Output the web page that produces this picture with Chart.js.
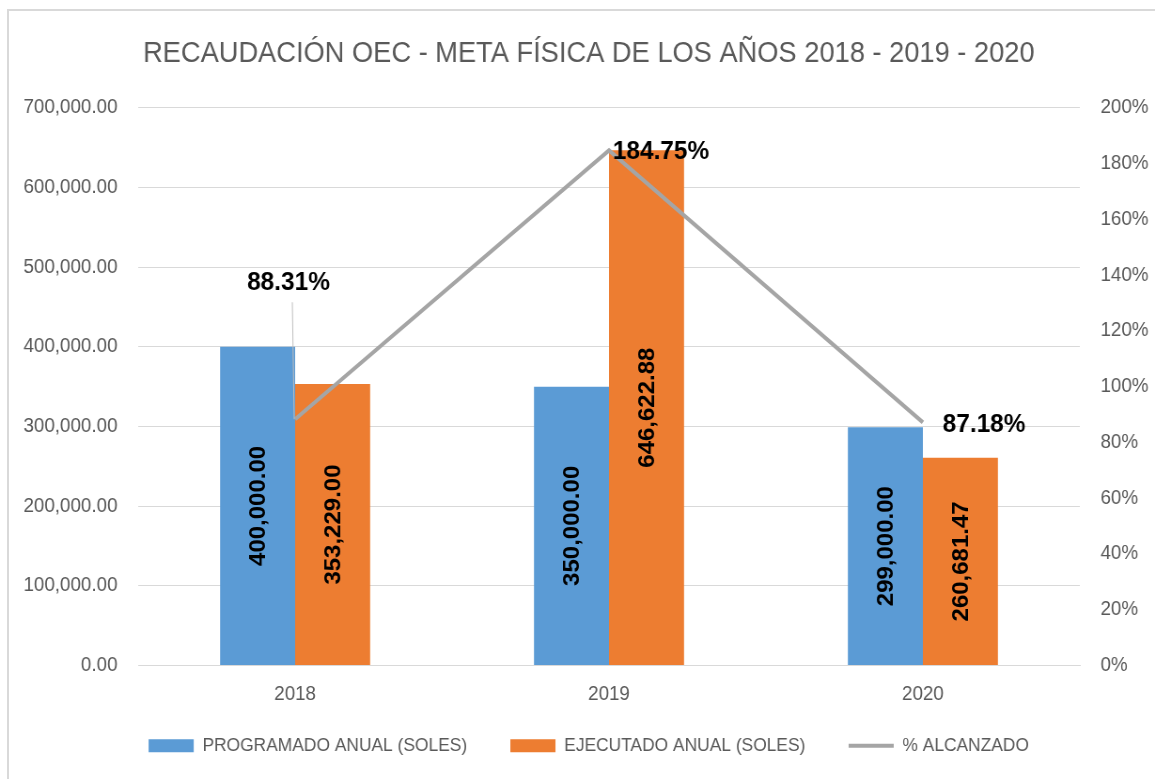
<!DOCTYPE html>
<html lang="es">
<head>
<meta charset="utf-8">
<title>Recaudación OEC</title>
<script src="https://cdn.jsdelivr.net/npm/chart.js@4.4.1/dist/chart.umd.min.js"></script>
<style>
  html, body { margin: 0; padding: 0; background: #fff; overflow: hidden; }
  #frame {
    position: absolute; left: 7px; top: 9px; width: 1200px; height: 800px;
    border-top: 2px solid #d9d9d9; border-left: 2px solid #d9d9d9;
  }
  /* chart is laid out a bit wider, then squeezed to mimic the condensed Office text */
  #wrap {
    position: absolute; left: 0; top: 0; width: 1229px; height: 779px;
    transform: scaleX(0.9398); transform-origin: 0 0;
  }
</style>
</head>
<body>
<div id="frame"></div>
<div id="wrap"><canvas id="chart" width="1229" height="779"></canvas></div>
<script>
// ── data ─────────────────────────────────────────────────────────────────────
const years = ['2018', '2019', '2020'];
const programado = [400000.00, 350000.00, 299000.00];
const ejecutado = [353229.00, 646622.88, 260681.47];
const alcanzado = [88.31, 184.75, 87.18];

const seriesNames = ['PROGRAMADO ANUAL (SOLES)', 'EJECUTADO ANUAL (SOLES)', '% ALCANZADO'];
const BLUE = '#5B9BD5';
const ORANGE = '#ED7D31';
const GRAY = '#A5A5A5';
const TEXT = '#595959';
const FONT = "'Liberation Sans', Arial, sans-serif";

Chart.defaults.font.family = FONT;
Chart.defaults.color = TEXT;

// ── helpers ──────────────────────────────────────────────────────────────────
function money(v) {
  return Number(v).toLocaleString('en-US', { minimumFractionDigits: 2, maximumFractionDigits: 2 });
}

// the x labels sit lower than the axis box, so don't clip them to it
const noLabelClip = {
  id: 'noLabelClip',
  afterLayout(chart) {
    chart.scales.x._computeLabelArea = () => null;
  },
};

// value labels, rotated inside the bars + percent labels near the line
const labelsPlugin = {
  id: 'valueLabels',
  afterDatasetsDraw(chart) {
    const { ctx } = chart;
    ctx.save();
    ctx.fillStyle = '#000';

    // bars
    [0, 1].forEach((di) => {
      const meta = chart.getDatasetMeta(di);
      const vals = chart.data.datasets[di].data;
      meta.data.forEach((bar, i) => {
        const cy = (bar.y + bar.base) / 2;
        ctx.save();
        ctx.translate(bar.x, cy);
        ctx.rotate(-Math.PI / 2);
        ctx.font = 'bold 24px ' + FONT;
        ctx.textAlign = 'center';
        ctx.textBaseline = 'middle';
        ctx.fillText(money(vals[i]), 0, 1);
        ctx.restore();
      });
    });

    // percent line labels
    const lineMeta = chart.getDatasetMeta(2);
    const place = [
      { dx: -7, dy: -136, align: 'center', leader: true },
      { dx: 4, dy: 2, align: 'left' },
      { dx: 21, dy: 2, align: 'left' },
    ];
    ctx.font = 'bold 26px ' + FONT;
    ctx.textBaseline = 'middle';
    lineMeta.data.forEach((pt, i) => {
      const p = place[i];
      if (p.leader) {
        ctx.strokeStyle = '#bfbfbf';
        ctx.lineWidth = 1;
        ctx.beginPath();
        ctx.moveTo(pt.x - 3, pt.y + p.dy + 19);
        ctx.lineTo(pt.x - 1, pt.y);
        ctx.stroke();
      }
      ctx.textAlign = p.align;
      ctx.fillText(alcanzado[i].toFixed(2) + '%', pt.x + p.dx, pt.y + p.dy);
    });
    ctx.restore();
  },
};

// ── chart ────────────────────────────────────────────────────────────────────
new Chart(document.getElementById('chart'), {
  type: 'bar',
  data: {
    labels: years,
    datasets: [
      {
        label: seriesNames[0],
        data: programado,
        backgroundColor: BLUE,
        yAxisID: 'y',
        order: 1,
        categoryPercentage: 0.478,
        barPercentage: 1.0,
      },
      {
        label: seriesNames[1],
        data: ejecutado,
        backgroundColor: ORANGE,
        yAxisID: 'y',
        order: 1,
        categoryPercentage: 0.478,
        barPercentage: 1.0,
      },
      {
        type: 'line',
        label: seriesNames[2],
        data: alcanzado,
        borderColor: GRAY,
        backgroundColor: GRAY,
        borderWidth: 4,
        pointRadius: 0,
        tension: 0,
        yAxisID: 'y1',
        order: -1,
      },
    ],
  },
  options: {
    responsive: false,
    animation: false,
    devicePixelRatio: 1,
    layout: { padding: { left: 24, right: 0, top: 0, bottom: 14 } },
    plugins: {
      tooltip: { enabled: false },
      title: {
        display: true,
        text: 'RECAUDACIÓN OEC - META FÍSICA DE LOS AÑOS 2018 - 2019 - 2020',
        color: TEXT,
        font: { size: 29, weight: 'normal', lineHeight: 1.2 },
        padding: { top: 37, bottom: 36 },
      },
      legend: {
        position: 'bottom',
        labels: {
          color: TEXT,
          font: { size: 18.5 },
          usePointStyle: true,
          pointStyleWidth: 48,
          boxHeight: 13,
          padding: 46,
          sort: (a, b) => a.datasetIndex - b.datasetIndex,
          generateLabels: (chart) => {
            const items = Chart.defaults.plugins.legend.labels.generateLabels(chart);
            items.forEach((it) => {
              const ds = chart.data.datasets[it.datasetIndex];
              if (ds.type === 'line') {
                it.pointStyle = 'line';
                it.lineWidth = 4;
                it.strokeStyle = GRAY;
              } else {
                it.pointStyle = 'rect';
                it.lineWidth = 0;
              }
            });
            return items;
          },
        },
      },
    },
    scales: {
      x: {
        grid: { display: false, drawTicks: false },
        border: { display: true, color: '#d9d9d9', width: 1 },
        ticks: { color: TEXT, font: { size: 20 }, padding: 17 },
        afterFit: (s) => { s.height = 25; },
      },
      y: {
        position: 'left',
        min: 0,
        max: 700000,
        grid: { color: '#d9d9d9', lineWidth: 1, drawTicks: false },
        border: { display: false },
        ticks: { stepSize: 100000, color: TEXT, font: { size: 20 }, padding: 22, callback: (v) => money(v) },
        afterFit: (s) => { s.width = 123; },
      },
      y1: {
        position: 'right',
        min: 0,
        max: 200,
        grid: { display: false, drawTicks: false },
        border: { display: false },
        ticks: { stepSize: 20, color: TEXT, font: { size: 20 }, padding: 22, callback: (v) => v + '%' },
        afterFit: (s) => { s.width = 80; },
      },
    },
  },
  plugins: [noLabelClip, labelsPlugin],
});
</script>
</body>
</html>
